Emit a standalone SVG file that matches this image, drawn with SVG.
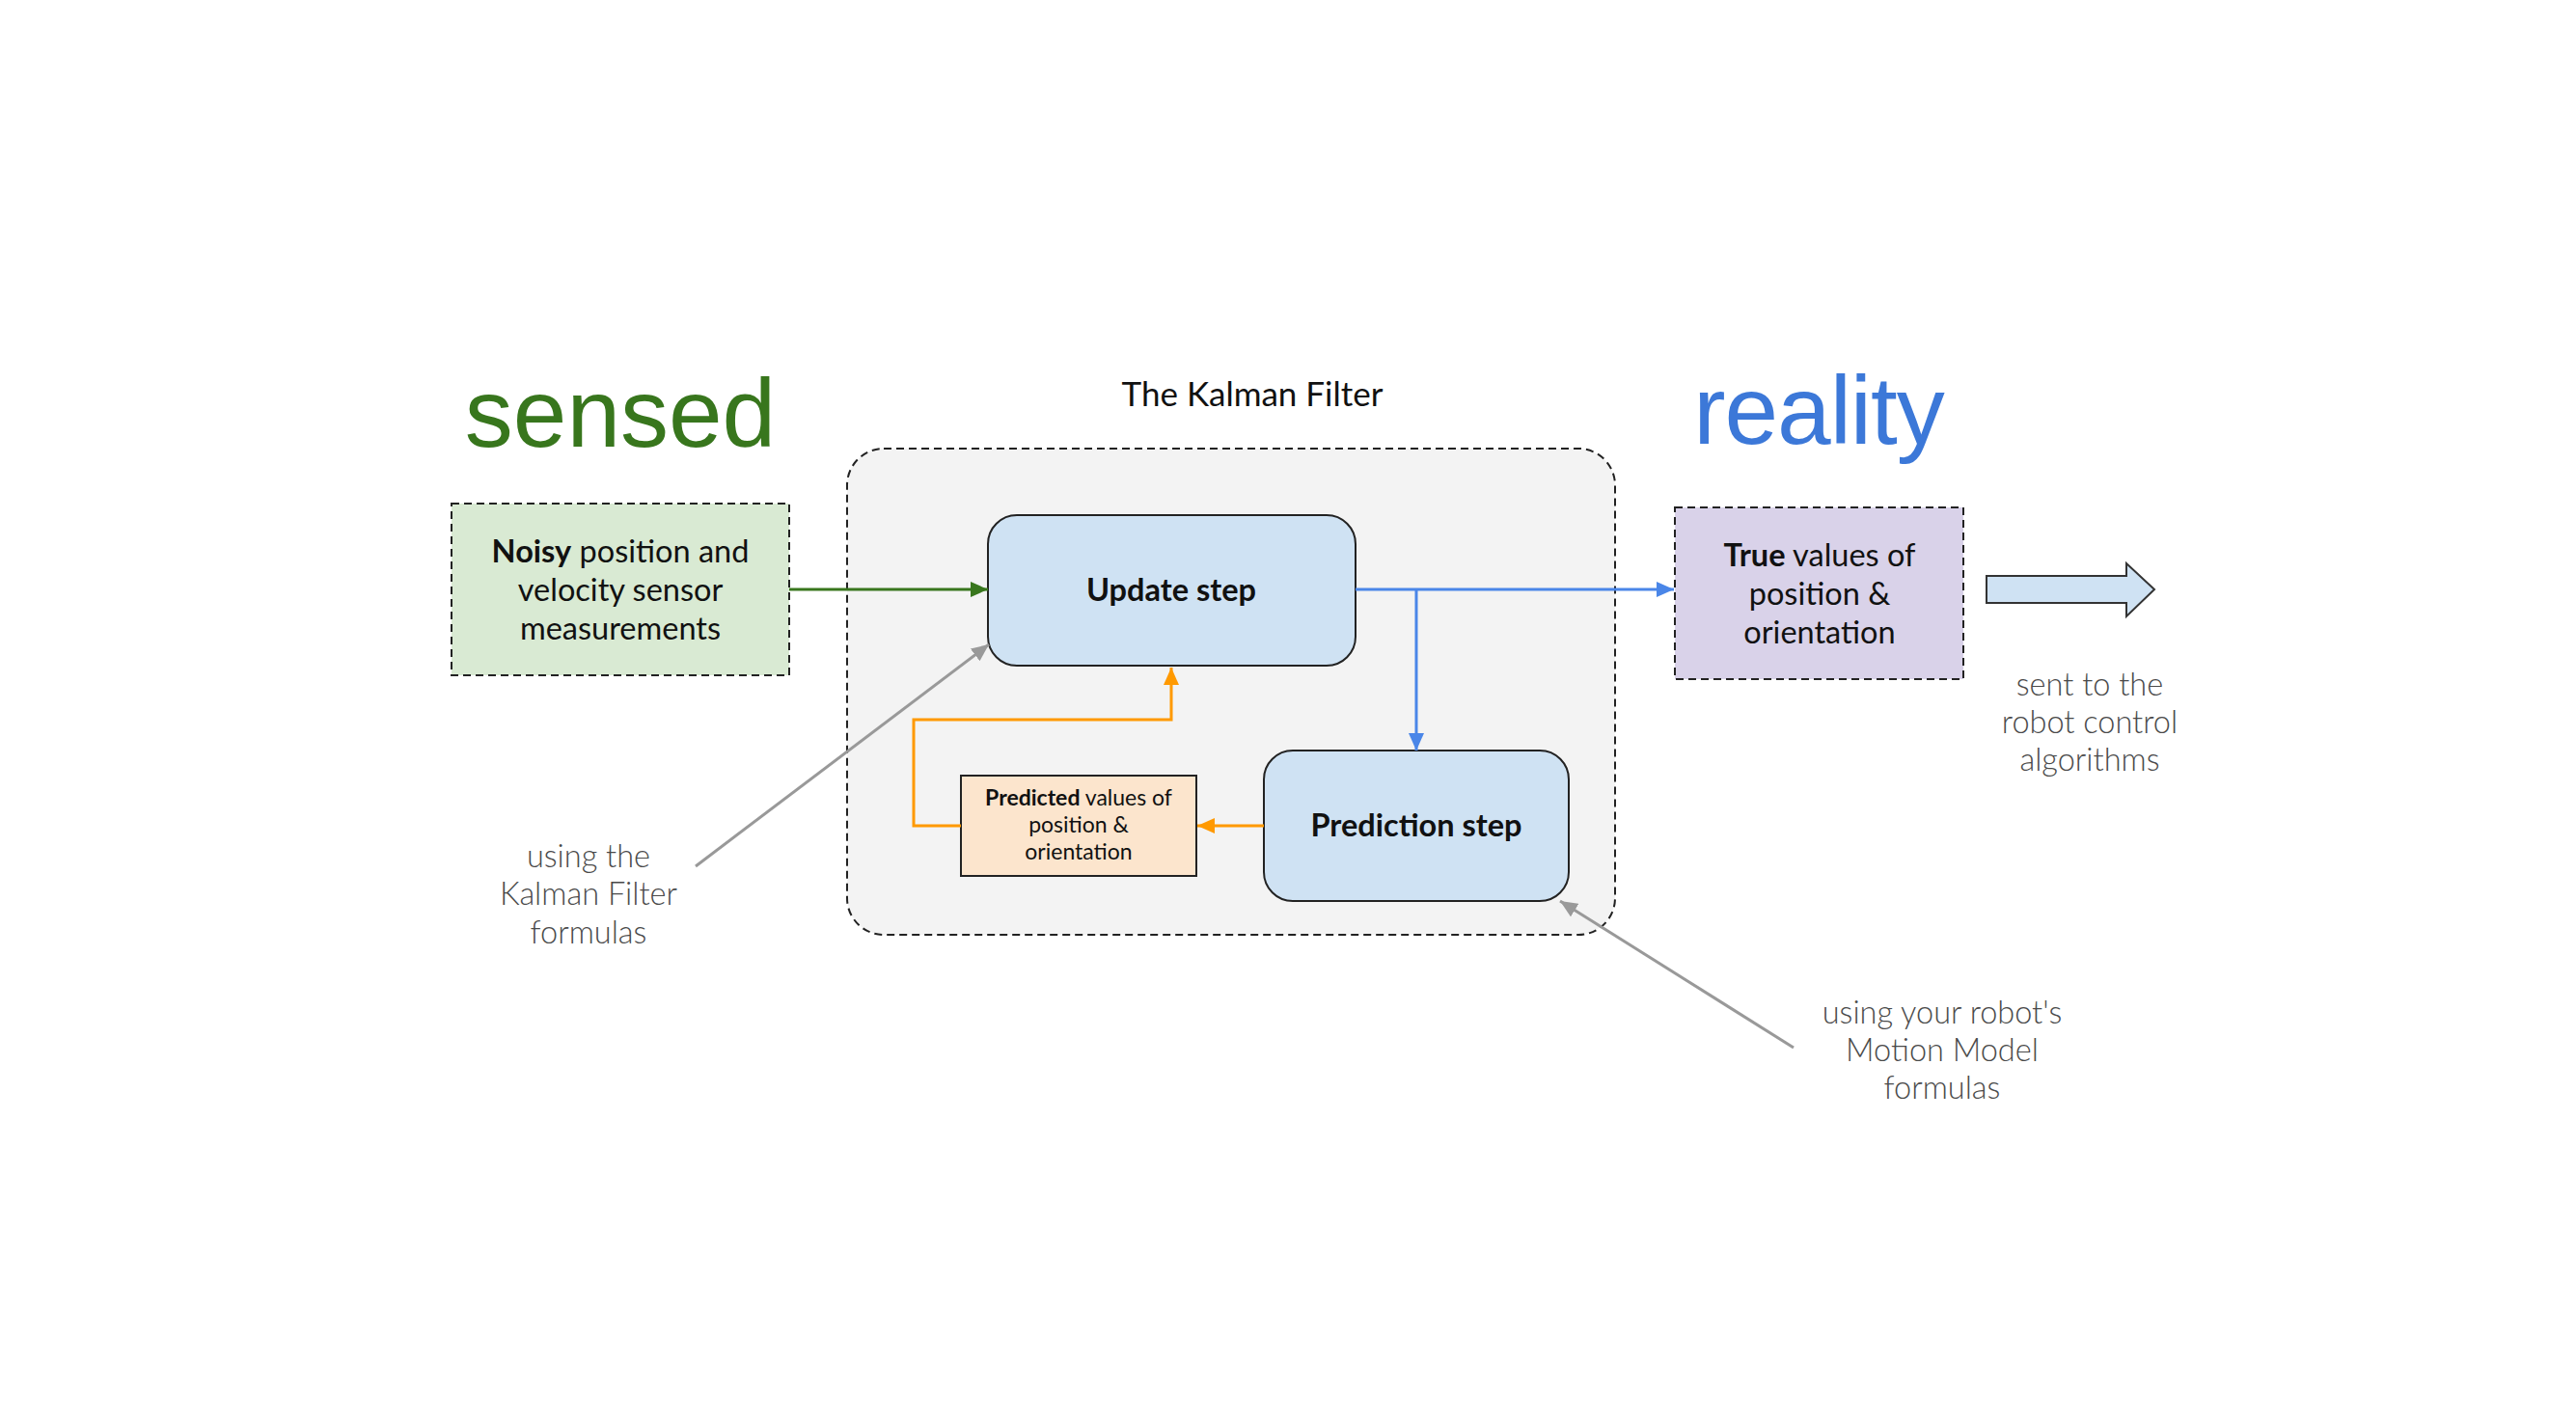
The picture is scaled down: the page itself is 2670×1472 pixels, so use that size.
<svg xmlns="http://www.w3.org/2000/svg" width="2670" height="1472" viewBox="0 0 2670 1472">
<style>
  .lato { font-family: Lato, "Open Sans", "Liberation Sans", sans-serif; }
  .big { font-family: "Liberation Sans", Arial, sans-serif; font-size: 100px; }
  .box { font-family: Lato, "Liberation Sans", sans-serif; font-size: 32.5px; fill: #111; text-anchor: middle; }
  .step { font-family: Lato, "Liberation Sans", sans-serif; font-size: 32.5px; font-weight: bold; fill: #111; text-anchor: middle; }
  .small { font-family: Lato, "Liberation Sans", sans-serif; font-size: 23px; fill: #111; text-anchor: middle; }
  .note { font-family: Lato, "Liberation Sans", sans-serif; font-size: 32.5px; font-weight: 300; fill: #4a4a4a; text-anchor: middle; }
  .dash { stroke: #222; stroke-width: 2; stroke-dasharray: 8 5; }
  .conn { fill: none; stroke-width: 3; }
</style>
<defs>
  <marker id="ag" markerUnits="userSpaceOnUse" markerWidth="18" markerHeight="16" refX="18" refY="8" orient="auto"><path d="M0,0 L18,8 L0,16 Z" fill="#38761d"/></marker>
  <marker id="ab" markerUnits="userSpaceOnUse" markerWidth="18" markerHeight="16" refX="18" refY="8" orient="auto"><path d="M0,0 L18,8 L0,16 Z" fill="#4a86e8"/></marker>
  <marker id="ao" markerUnits="userSpaceOnUse" markerWidth="18" markerHeight="16" refX="18" refY="8" orient="auto"><path d="M0,0 L18,8 L0,16 Z" fill="#ff9900"/></marker>
  <marker id="ay" markerUnits="userSpaceOnUse" markerWidth="18" markerHeight="16" refX="18" refY="8" orient="auto"><path d="M0,0 L18,8 L0,16 Z" fill="#999999"/></marker>
</defs>
<rect width="2670" height="1472" fill="#ffffff"/>

<g id="label-sensed"><text class="big" x="643" y="463" text-anchor="middle" fill="#38761d">sensed</text></g>
<g id="label-reality"><text class="big" x="1885" y="460" text-anchor="middle" fill="#3c78d8" letter-spacing="-1">reality</text></g>
<g id="title"><text class="lato" x="1298" y="421" font-size="35" text-anchor="middle" fill="#111">The Kalman Filter</text></g>

<g id="kalman-filter">
  <rect x="878" y="465" width="796" height="504" rx="38" fill="#f3f3f3" class="dash"/>
</g>

<g id="noisy">
  <rect x="468" y="522" width="350" height="178" fill="#d9ead3" class="dash"/>
  <text class="box" x="643" y="583"><tspan font-weight="bold">Noisy</tspan> position and</text>
  <text class="box" x="643" y="623">velocity sensor</text>
  <text class="box" x="643" y="663">measurements</text>
</g>

<g id="update">
  <rect x="1024" y="534" width="381" height="156" rx="30" fill="#cfe2f3" stroke="#222" stroke-width="2"/>
  <text class="step" x="1214" y="623">Update step</text>
</g>

<g id="prediction">
  <rect x="1310" y="778" width="316" height="156" rx="30" fill="#cfe2f3" stroke="#222" stroke-width="2"/>
  <text class="step" x="1468" y="867">Prediction step</text>
</g>

<g id="predicted">
  <rect x="996" y="804" width="244" height="104" fill="#fce5cd" stroke="#222" stroke-width="2"/>
  <text class="small" x="1118" y="835"><tspan font-weight="bold">Predicted</tspan> values of</text>
  <text class="small" x="1118" y="863">position &amp;</text>
  <text class="small" x="1118" y="891">orientation</text>
</g>

<g id="true">
  <rect x="1736" y="526" width="299" height="178" fill="#d9d2e9" class="dash"/>
  <text class="box" x="1886" y="587"><tspan font-weight="bold">True</tspan> values of</text>
  <text class="box" x="1886" y="627">position &amp;</text>
  <text class="box" x="1886" y="667">orientation</text>
</g>

<g id="output-arrow">
  <path d="M2059,597 L2204,597 L2204,584 L2233,611 L2204,639 L2204,625 L2059,625 Z" fill="#cfe2f3" stroke="#333" stroke-width="2"/>
</g>

<g id="note-sent">
  <text class="note" x="2166" y="721">sent to the</text>
  <text class="note" x="2166" y="760">robot control</text>
  <text class="note" x="2166" y="799">algorithms</text>
</g>
<g id="note-kalman">
  <text class="note" x="610" y="899">using the</text>
  <text class="note" x="610" y="938">Kalman Filter</text>
  <text class="note" x="610" y="978">formulas</text>
</g>
<g id="note-motion">
  <text class="note" x="2013" y="1061">using your robot's</text>
  <text class="note" x="2013" y="1100">Motion Model</text>
  <text class="note" x="2013" y="1139">formulas</text>
</g>

<g id="connectors">
  <path class="conn" d="M818,611 L1024,611" stroke="#38761d" marker-end="url(#ag)"/>
  <path class="conn" d="M1405,611 L1735,611" stroke="#4a86e8" marker-end="url(#ab)"/>
  <path class="conn" d="M1468,611 L1468,778" stroke="#4a86e8" marker-end="url(#ab)"/>
  <path class="conn" d="M1310,856 L1241,856" stroke="#ff9900" marker-end="url(#ao)"/>
  <path class="conn" d="M996,856 L947,856 L947,746 L1214,746 L1214,692" stroke="#ff9900" marker-end="url(#ao)"/>
  <path class="conn" d="M721,898 L1025,668" stroke="#999999" marker-end="url(#ay)"/>
  <path class="conn" d="M1859,1086 L1617,934" stroke="#999999" marker-end="url(#ay)"/>
</g>
</svg>
